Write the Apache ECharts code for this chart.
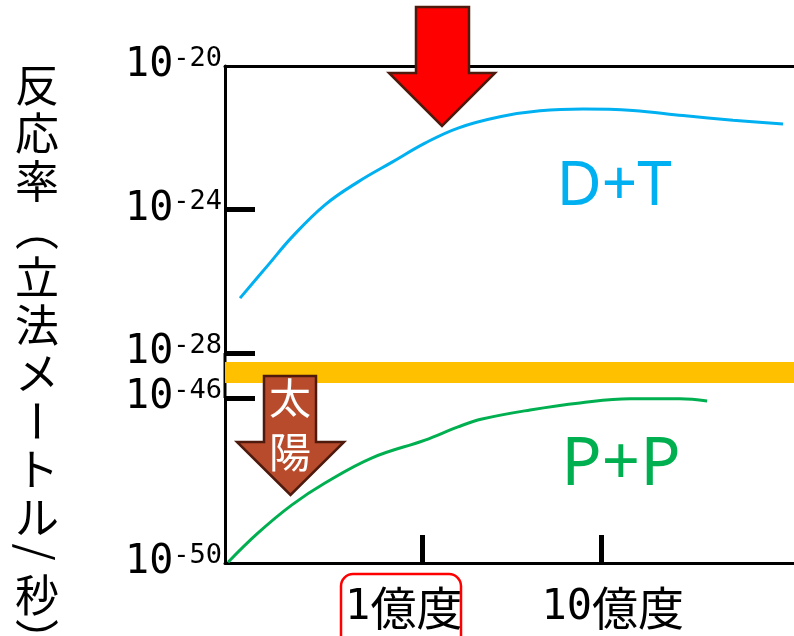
<!DOCTYPE html>
<html><head><meta charset="utf-8">
<script src="https://cdn.jsdelivr.net/npm/echarts@6/dist/echarts.min.js"></script>
<style>html,body{margin:0;padding:0;background:#fff}#c{width:794px;height:636px}</style>
</head><body><div id="c"></div>
<script>
// Temperature in units of 1億度 (1e8 K)
const tempDT = [0.0978, 0.140, 0.190, 0.290, 0.443, 0.684, 1.043, 1.591, 2.759, 4.54, 7.87, 14.9, 28.3, 53.6, 101.7];
// log10 of reaction rate (m^3/s)
const rateDT = [-26.47, -25.55, -24.77, -23.87, -23.23, -22.68, -22.15, -21.73, -21.41, -21.25, -21.20, -21.24, -21.38, -21.51, -21.62];
const tempPP = [0.0839, 0.1232, 0.190, 0.290, 0.530, 1.043, 1.591, 2.163, 4.00, 7.57, 14.4, 27.2, 38.5];
const ratePP = [-49.98, -49.27, -48.59, -48.06, -47.45, -47.02, -46.70, -46.51, -46.29, -46.12, -46.02, -46.02, -46.07];
const xTickTemps = [1, 10];
const xTickNums = ['1', '10'];
const xTickUnit = '億度';
const upperLabels = [-20, -24, -28];
const upperTicks = [-24, -28];
const lowerLabels = [-46, -50];
const lowerTicks = [-46];
const seriesNames = ['D+T', 'P+P'];
// y-axis title written vertically: [character, rotated?]
const titleChars = [['反',0],['応',0],['率',0],['（',1],['立',0],['法',0],['メ',0],['ー',1],['ト',0],['ル',0],['/',1],['秒',0],['）',1]];
const sunChars = ['太','陽'];
const xRangeT = [0.0807, 117];

const MONO = "'DejaVu Sans Mono','Noto Sans CJK JP',monospace";
const CJK = "'Noto Sans CJK JP','Noto Sans CJK SC',sans-serif";
const xMin = Math.log10(xRangeT[0]), xMax = Math.log10(xRangeT[1]);
const lineAxis = {show: true, onZero: false, lineStyle: {color: '#000', width: 3}};
const tickStyle = {color: '#000', width: 5};
const yRich = {
  b: {fontSize: 40, fontFamily: MONO, color: '#000', lineHeight: 42},
  s: {fontSize: 27, fontFamily: MONO, color: '#000', lineHeight: 22, verticalAlign: 'top'}
};
const yFmt = v => '{b|10}{s|' + v + '}';

// vertical title layout (centres of character cells)
const titleY = [85, 133, 181, 229, 277, 325, 373, 421, 469, 517, 552, 595, 640];
const titleGraphics = titleChars.map((c, i) => ({
  type: 'text', z: 120, x: 37, y: titleY[i], rotation: c[1] ? -Math.PI / 2 : 0,
  style: {text: c[0], font: '44px ' + CJK, fill: '#000', align: 'center', verticalAlign: 'middle'}
}));

const chart = echarts.init(document.getElementById('c'), null, {renderer: 'canvas'});
chart.setOption({
  animation: false,
  backgroundColor: '#fff',
  grid: [
    {left: 225, right: 0, top: 66, height: 287},
    {left: 225, right: 0, top: 398, height: 165}
  ],
  xAxis: [
    {gridIndex: 0, type: 'value', min: xMin, max: xMax, position: 'top',
     axisLine: lineAxis, axisTick: {show: false}, axisLabel: {show: false}, splitLine: {show: false}},
    {gridIndex: 1, type: 'value', min: xMin, max: xMax, position: 'bottom',
     axisLine: lineAxis,
     axisTick: {show: true, inside: true, length: 28, customValues: xTickTemps.map(Math.log10), lineStyle: tickStyle},
     axisLabel: {show: true, margin: 22, customValues: xTickTemps.map(Math.log10),
       formatter: v => {
         const i = xTickTemps.findIndex(t => Math.abs(Math.log10(t) - v) < 1e-6);
         return i === 0 ? '{d|' + xTickNums[i] + '}{kr|' + xTickUnit + '}'
                        : '{dl|' + xTickNums[i] + '}{k|' + xTickUnit + '}';
       },
       rich: {
         d: {fontSize: 42, fontFamily: MONO, color: '#000', lineHeight: 46},
         dl: {fontSize: 42, fontFamily: MONO, color: '#000', lineHeight: 46, padding: [0, 0, 0, 22]},
         k: {fontSize: 46, fontFamily: CJK, color: '#000', lineHeight: 46},
         kr: {fontSize: 46, fontFamily: CJK, color: '#000', lineHeight: 46, padding: [0, 36, 0, 0]}
       }},
     splitLine: {show: false}}
  ],
  yAxis: [
    {gridIndex: 0, type: 'value', min: -28, max: -20,
     axisLine: lineAxis,
     axisTick: {show: true, inside: true, length: 30, customValues: upperTicks, lineStyle: tickStyle},
     axisLabel: {show: true, margin: 3, customValues: upperLabels, formatter: yFmt, rich: yRich},
     splitLine: {show: false}},
    {gridIndex: 1, type: 'value', min: -50, max: -46,
     axisLine: lineAxis,
     axisTick: {show: true, inside: true, length: 30, customValues: lowerTicks, lineStyle: tickStyle},
     axisLabel: {show: true, margin: 3, customValues: lowerLabels, formatter: yFmt, rich: yRich},
     splitLine: {show: false}}
  ],
  series: [
    {name: seriesNames[0], type: 'line', xAxisIndex: 0, yAxisIndex: 0, smooth: 0.4, showSymbol: false,
     lineStyle: {color: '#00B0F0', width: 3}, data: tempDT.map((t, i) => [Math.log10(t), rateDT[i]])},
    {name: seriesNames[1], type: 'line', xAxisIndex: 1, yAxisIndex: 1, smooth: 0.4, showSymbol: false,
     lineStyle: {color: '#00B050', width: 3}, data: tempPP.map((t, i) => [Math.log10(t), ratePP[i]])}
  ],
  graphic: [
    {type: 'line', z: 90, shape: {x1: 225, y1: 353, x2: 225, y2: 398}, style: {stroke: '#000', lineWidth: 3}},
    {type: 'rect', z: 100, shape: {x: 225, y: 362, width: 569, height: 21}, style: {fill: '#FFC000'}},
    {type: 'polygon', z: 110, shape: {points: [[416,7],[469,7],[469,73],[495,73],[442,126],[389,73],[416,73]]},
     style: {fill: '#FF0000', stroke: '#4D1A0D', lineWidth: 2.5}},
    {type: 'polygon', z: 110, shape: {points: [[264,376],[316,376],[316,442],[344,442],[290.5,495],[237,442],[264,442]]},
     style: {fill: '#B84B2C', stroke: '#4D1A0D', lineWidth: 2.5}},
    {type: 'text', z: 120, x: 290, y: 398, style: {text: sunChars[0], font: '42px ' + CJK, fill: '#fff', align: 'center', verticalAlign: 'middle'}},
    {type: 'text', z: 120, x: 290, y: 452, style: {text: sunChars[1], font: '42px ' + CJK, fill: '#fff', align: 'center', verticalAlign: 'middle'}},
    {type: 'text', z: 120, x: 614, y: 187, style: {text: seriesNames[0], font: '62px "Noto Sans",sans-serif', fill: '#00B0F0', align: 'center', verticalAlign: 'middle'}},
    {type: 'text', z: 120, x: 621, y: 466, style: {text: seriesNames[1], font: '67px "Noto Sans",sans-serif', fill: '#00B050', align: 'center', verticalAlign: 'middle'}},
    {type: 'rect', z: 120, shape: {x: 341, y: 574, width: 120, height: 80, r: 12}, style: {fill: 'none', stroke: '#FF0000', lineWidth: 2.5}}
  ].concat(titleGraphics)
});
</script></body></html>
